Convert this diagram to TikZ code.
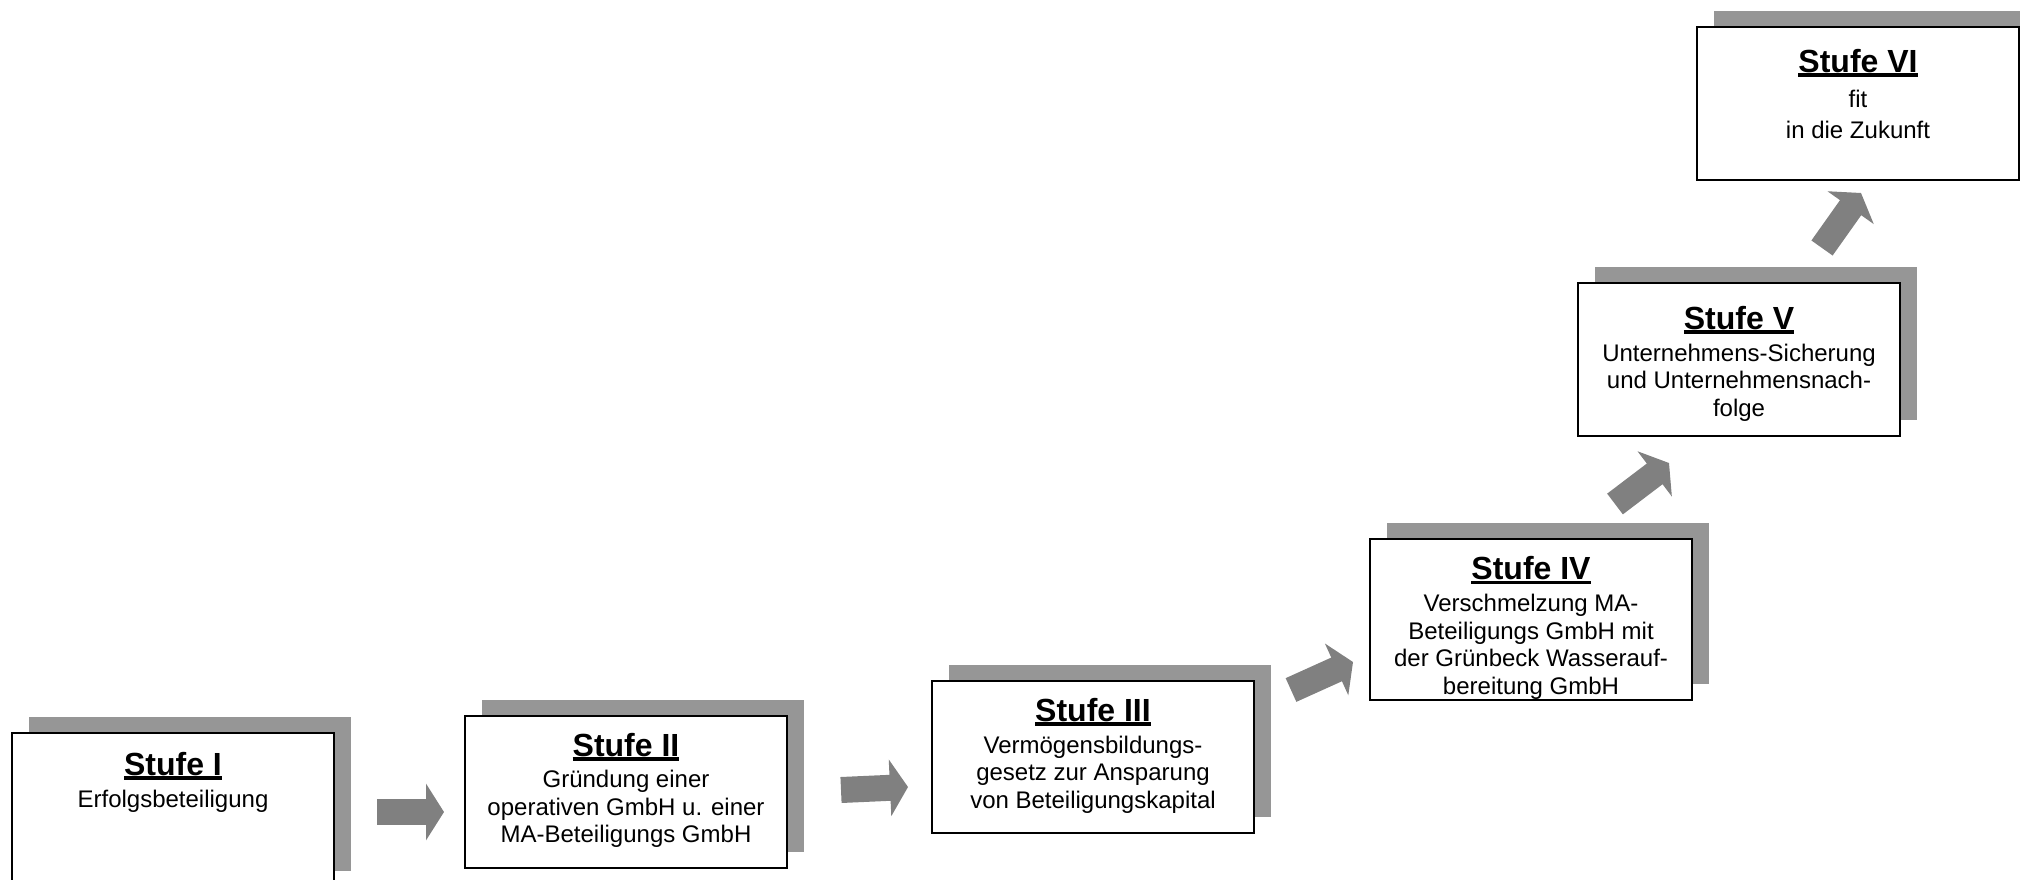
\documentclass[tikz,border=0pt]{standalone}
\usepackage{fontspec}
\setmainfont{Liberation Sans}
\usetikzlibrary{arrows.meta,shadows}

\definecolor{shadowgray}{RGB}{150,150,150}
\definecolor{arrowgray}{RGB}{128,128,128}

% underlined title, thick rule
\newcommand{\stufeul}[1]{\setbox0\hbox{#1}\rlap{\vrule height -1pt depth 4.5pt width \wd0}\box0}
% box text: height, title baseline, extra gap, title, body
\newcommand{\stufetext}[5]{%
  \begin{minipage}[t][#1][t]{322pt}\centering
    {\fontsize{32}{36}\selectfont\bfseries\rule{0pt}{#2}\stufeul{#4}\par}
    \vspace{#3}
    {\fontsize{24}{27.6}\selectfont #5\par}
  \end{minipage}}

\begin{document}
\begin{tikzpicture}[x=1pt, y=-1pt]
    % Define styles
    \tikzstyle{stufe} = [rectangle, draw=black, line width=2.5pt, fill=white, inner sep=0pt, general shadow={fill=shadowgray, shadow xshift=16.5pt, shadow yshift=16pt}]
    \tikzstyle{blockarrow} = [draw=arrowgray, line width=26pt, -{Triangle[length=18pt, width=56pt]}]

    \useasboundingbox (0,0) rectangle (2020,880);

    % Stufen
    \node [stufe] (s1) at (173,810) {\stufetext{154pt}{42pt}{4.4pt}{Stufe I}{Erfolgsbeteiligung}};
    \node [stufe] (s2) at (626,792) {\stufetext{152pt}{40pt}{4pt}{Stufe II}{Gründung einer\\operativen GmbH u. einer\\MA-Beteiligungs GmbH}};
    \node [stufe] (s3) at (1093,757) {\stufetext{152pt}{40pt}{4.4pt}{Stufe III}{Vermögensbildungs-\\gesetz zur Ansparung\\von Beteiligungskapital}};
    \node [stufe] (s4) at (1531,619.5) {\stufetext{161pt}{40.5pt}{4.3pt}{Stufe IV}{Verschmelzung MA-\\Beteiligungs GmbH mit\\der Grünbeck Wasserauf-\\bereitung GmbH}};
    \node [stufe] (s5) at (1739,359.5) {\stufetext{153pt}{46pt}{4.7pt}{Stufe V}{Unternehmens-Sicherung\\und Unternehmensnach-\\folge}};
    \node [stufe] (s6) at (1858,103.5) {\stufetext{153pt}{45.5pt}{7.5pt}{Stufe VI}{fit\\[3.4pt]in die Zukunft}};

    % Arrow ends
    \coordinate (a1s) at (377,812);
    \coordinate (a1e) at (444,812);
    \coordinate (a2s) at (841,790);
    \coordinate (a2e) at (908,787);
    \coordinate (a3s) at (1291,690);
    \coordinate (a3e) at (1353,662);
    \coordinate (a4s) at (1615,504);
    \coordinate (a4e) at (1669,463);
    \coordinate (a5s) at (1822,248);
    \coordinate (a5e) at (1861,193);

    % Arrows
    \draw [blockarrow] (a1s) -- (a1e);
    \draw [blockarrow] (a2s) -- (a2e);
    \draw [blockarrow] (a3s) -- (a3e);
    \draw [blockarrow] (a4s) -- (a4e);
    \draw [blockarrow] (a5s) -- (a5e);
\end{tikzpicture}
\end{document}
